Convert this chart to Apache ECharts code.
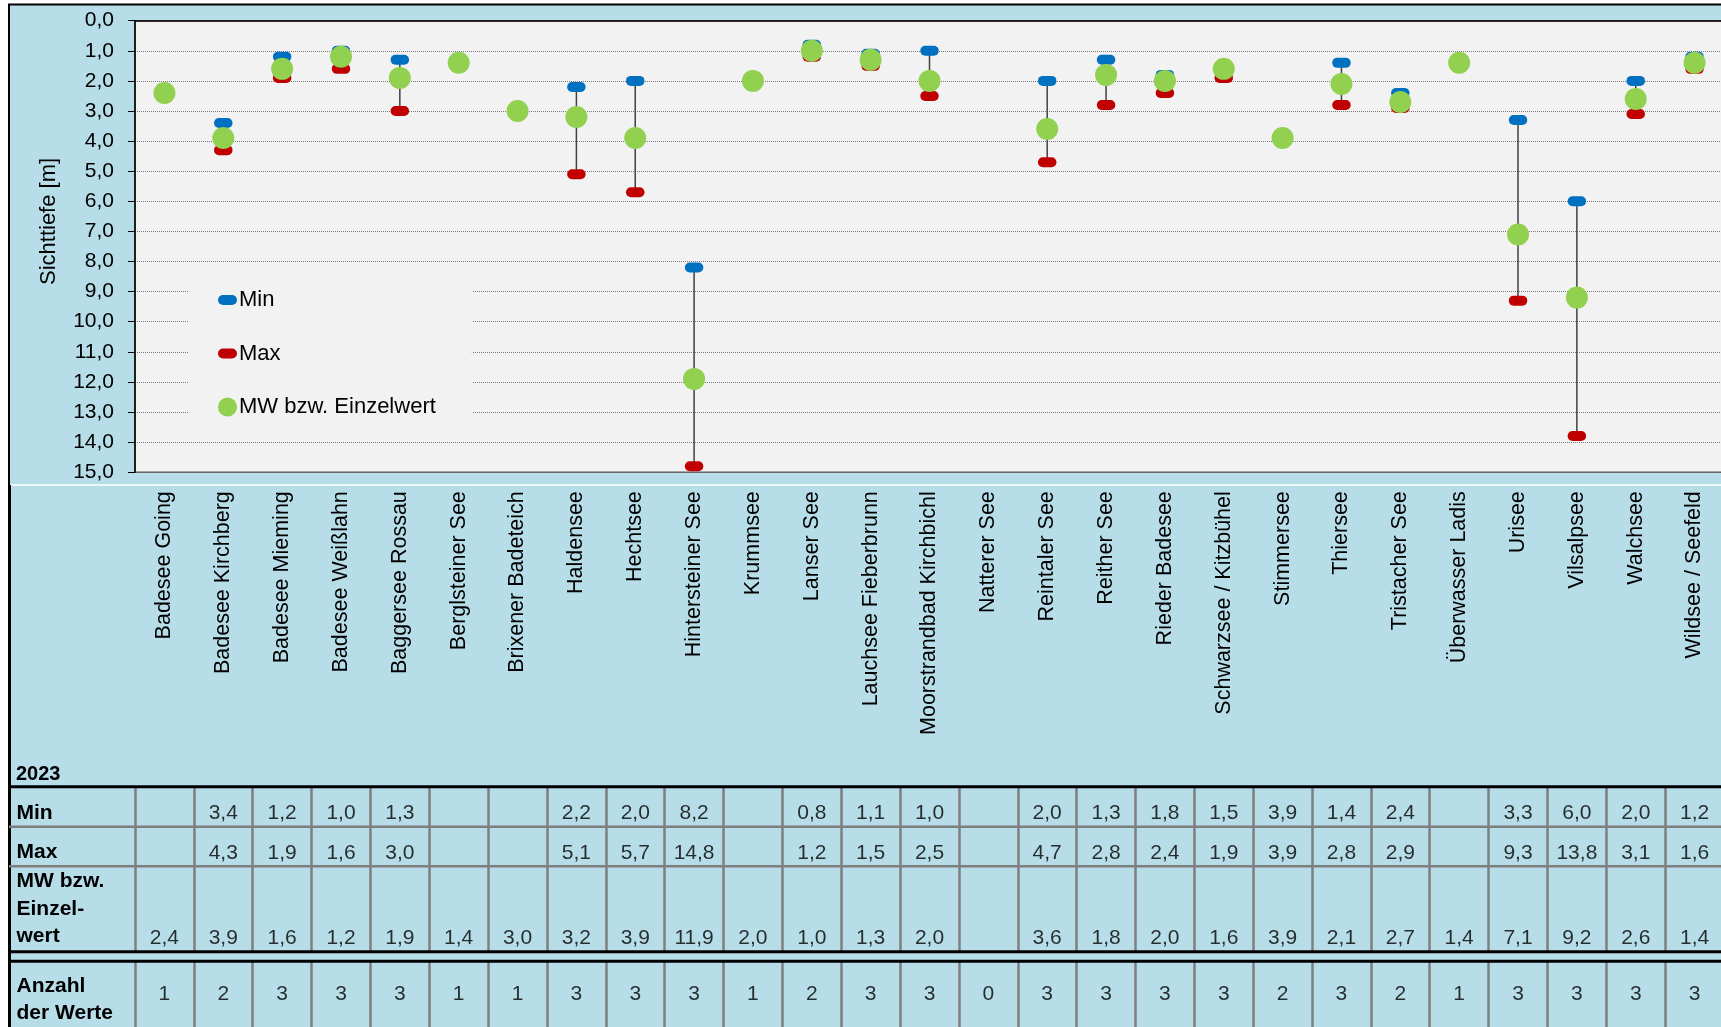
<!DOCTYPE html>
<html>
<head>
<meta charset="utf-8">
<title>Sichttiefe Badegewässer 2023</title>
<script src="https://cdn.jsdelivr.net/npm/echarts@6/dist/echarts.min.js"></script>
<style>
  html, body { margin: 0; padding: 0; background: #fff; }
  #chart { width: 1721px; height: 1027px; }
</style>
</head>
<body>
<div id="chart"></div>
<script>
var lakes = [
  'Badesee Going', 'Badesee Kirchberg', 'Badesee Mieming', 'Badesee Weißlahn',
  'Baggersee Rossau', 'Berglsteiner See', 'Brixener Badeteich', 'Haldensee',
  'Hechtsee', 'Hintersteiner See', 'Krummsee', 'Lanser See',
  'Lauchsee Fieberbrunn', 'Moorstrandbad Kirchbichl', 'Natterer See', 'Reintaler See',
  'Reither See', 'Rieder Badesee', 'Schwarzsee / Kitzbühel', 'Stimmersee',
  'Thiersee', 'Tristacher See', 'Überwasser Ladis', 'Urisee',
  'Vilsalpsee', 'Walchsee', 'Wildsee / Seefeld'
];
var minVals = [null, 3.4, 1.2, 1.0, 1.3, null, null, 2.2, 2.0, 8.2, null, 0.8, 1.1, 1.0,
  null, 2.0, 1.3, 1.8, 1.5, 3.9, 1.4, 2.4, null, 3.3, 6.0, 2.0, 1.2];
var maxVals = [null, 4.3, 1.9, 1.6, 3.0, null, null, 5.1, 5.7, 14.8, null, 1.2, 1.5, 2.5,
  null, 4.7, 2.8, 2.4, 1.9, 3.9, 2.8, 2.9, null, 9.3, 13.8, 3.1, 1.6];
var mwVals = [2.4, 3.9, 1.6, 1.2, 1.9, 1.4, 3.0, 3.2, 3.9, 11.9, 2.0, 1.0, 1.3, 2.0,
  null, 3.6, 1.8, 2.0, 1.6, 3.9, 2.1, 2.7, 1.4, 7.1, 9.2, 2.6, 1.4];
var counts = [1, 2, 3, 3, 3, 1, 1, 3, 3, 3, 1, 2, 3, 3, 0, 3, 3, 3, 3, 2, 3, 2, 1, 3, 3, 3, 3];

var yearLabel = '2023';
var rowNames = ['Min', 'Max', 'MW bzw.\nEinzel-\nwert', 'Anzahl\nder Werte'];
var rowValues = [minVals, maxVals, mwVals, counts];

// table row layout (px)
var rowLayout = [
  { top: 786.7, height: 40, dy: 6.5, va: 'top', lh: 12.6 },
  { top: 826.7, height: 39.6, dy: 6.3, va: 'top', lh: 12.4 },
  { top: 866.3, height: 85.4, dy: 29, va: 'middle', lh: 27.5 },
  { top: 961.3, height: 77, dy: -6, va: 'middle', lh: 27 }
];

var FONT = 'Arial, "Liberation Sans", sans-serif';
var PILL = 'path://M5,0H14A5,5,0,0,1,14,10H5A5,5,0,0,1,5,0Z';
function dec(v) { return v.toFixed(1).replace('.', ','); }

var chart = echarts.init(document.getElementById('chart'));

var grids = [{
  left: 135, top: 20.7, width: 1589, height: 451.5,
  show: true, backgroundColor: '#f2f2f2', borderColor: '#595959', borderWidth: 1.5,
  outerBoundsMode: 'none'
}];
var xAxes = [{
  type: 'category', gridIndex: 0, data: lakes,
  axisLine: { lineStyle: { color: '#000', width: 1.5 } },
  axisTick: { show: false },
  axisLabel: { interval: 0, rotate: 90, margin: 19, fontSize: 21.5, color: '#000', fontFamily: FONT },
  splitLine: { show: false }
}];
var yAxes = [{
  type: 'value', gridIndex: 0, inverse: true, min: 0, max: 15, interval: 1,
  name: 'Sichttiefe [m]', nameLocation: 'middle', nameGap: 75, nameRotate: 90,
  nameTextStyle: { fontSize: 22, color: '#000', fontFamily: FONT, padding: [0, 0, 0, 50] },
  axisLine: { show: true, lineStyle: { color: '#000', width: 1.5 } },
  axisTick: { show: true, length: 7, lineStyle: { color: '#000' } },
  axisLabel: { formatter: dec, fontSize: 21, color: '#000', margin: 21, fontFamily: FONT },
  splitLine: { show: true, lineStyle: { color: '#7a7a7a', width: 1, type: [1, 1] } }
}];

var series = [
  {
    type: 'custom', xAxisIndex: 0, yAxisIndex: 0, z: 2, silent: true,
    data: lakes.map(function (l, i) { return [i, minVals[i], maxVals[i]]; })
      .filter(function (d) { return d[1] != null && d[2] != null; }),
    encode: { x: 0, y: [1, 2] },
    renderItem: function (params, api) {
      var a = api.coord([api.value(0), api.value(1)]);
      var b = api.coord([api.value(0), api.value(2)]);
      return {
        type: 'line',
        shape: { x1: a[0], y1: a[1], x2: b[0], y2: b[1] },
        style: { stroke: '#404040', lineWidth: 1.5 }
      };
    }
  },
  {
    name: 'Max', type: 'scatter', z: 3, data: maxVals,
    symbol: PILL, symbolSize: [18.5, 10], symbolKeepAspect: false,
    itemStyle: { color: '#c00000', opacity: 1 }
  },
  {
    name: 'Min', type: 'scatter', z: 4, data: minVals,
    symbol: PILL, symbolSize: [18.5, 10], symbolKeepAspect: false,
    itemStyle: { color: '#0070c0', opacity: 1 }
  },
  {
    name: 'MW bzw. Einzelwert', type: 'scatter', z: 5, data: mwVals,
    symbol: 'circle', symbolSize: 22,
    itemStyle: { color: '#92d050', opacity: 1 }
  }
];

// data table rows below the chart
rowValues.forEach(function (vals, r) {
  var lay = rowLayout[r];
  var k = r + 1;
  grids.push({ left: 135, top: lay.top, width: 1589, height: lay.height, outerBoundsMode: 'none' });
  xAxes.push({
    type: 'category', gridIndex: k, data: lakes,
    axisLine: { show: false },
    axisTick: { show: false, interval: 0 },
    axisLabel: { show: false, interval: 0 },
    splitLine: { show: true, interval: 0, lineStyle: { color: '#7f7f7f', width: 2.5 } }
  });
  yAxes.push({
    type: 'category', gridIndex: k, data: [rowNames[r]],
    axisLine: { show: false }, axisTick: { show: false }, splitLine: { show: false },
    axisLabel: {
      align: 'left', verticalAlign: lay.va, margin: 118.5, fontSize: 21, fontWeight: 'bold',
      color: '#000', fontFamily: FONT, lineHeight: lay.lh
    }
  });
  series.push({
    type: 'scatter', xAxisIndex: k, yAxisIndex: k, silent: true,
    symbolSize: 1, itemStyle: { color: 'transparent' },
    data: vals.map(function (v, i) { return v == null ? null : [i, 0, v]; })
      .filter(function (d) { return d !== null; }),
    label: {
      show: true, position: 'inside', offset: [0, lay.dy],
      fontSize: 21, color: '#000', fontFamily: FONT,
      formatter: function (p) { return r === 3 ? String(p.value[2]) : dec(p.value[2]); }
    }
  });
});

function rule(y, color, w) {
  return { type: 'line', z: 100, silent: true,
    shape: { x1: 9, y1: y, x2: 1721, y2: y }, style: { stroke: color, lineWidth: w } };
}

var option = {
  animation: false,
  backgroundColor: '#fff',
  title: {
    text: yearLabel, left: 16, top: 764, padding: 0,
    textStyle: { fontSize: 20, fontWeight: 'bold', color: '#000', fontFamily: FONT }
  },
  legend: {
    orient: 'vertical', left: 188, top: 266,
    padding: [23, 36, 20, 30],
    backgroundColor: '#f2f2f2',
    itemWidth: 19, itemHeight: 20, itemGap: 31.5,
    textStyle: { fontSize: 22, color: '#000', fontFamily: FONT, padding: [0, 0, 0, -3] },
    data: [
      { name: 'Min', icon: PILL },
      { name: 'Max', icon: PILL },
      { name: 'MW bzw. Einzelwert', icon: 'circle' }
    ]
  },
  graphic: [
    { type: 'rect', z: -10, silent: true,
      shape: { x: 9, y: 4.5, width: 1740, height: 1040 },
      style: { fill: '#b7dee8', stroke: '#000', lineWidth: 2 } },
    { type: 'line', z: 90, silent: true,
      shape: { x1: 10, y1: 485, x2: 1721, y2: 485 }, style: { stroke: '#fff', lineWidth: 1.5 } },
    { type: 'line', z: 100, silent: true,
      shape: { x1: 9.5, y1: 485, x2: 9.5, y2: 1027 }, style: { stroke: '#000', lineWidth: 3 } },
    rule(786.7, '#000', 3),
    rule(826.7, '#7f7f7f', 2.5),
    rule(866.3, '#7f7f7f', 2.5),
    rule(951.7, '#000', 3),
    rule(961.3, '#000', 3)
  ],
  grid: grids,
  xAxis: xAxes,
  yAxis: yAxes,
  series: series
};

chart.setOption(option);
</script>
</body>
</html>
